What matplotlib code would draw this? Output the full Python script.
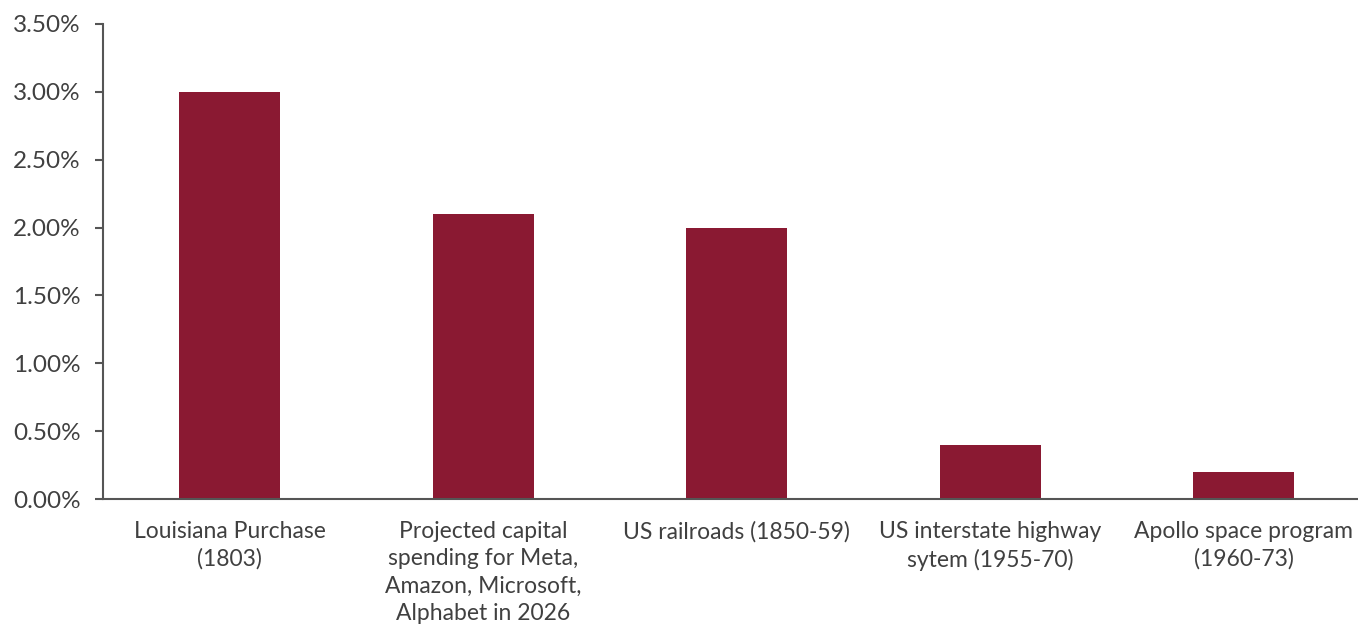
import matplotlib
matplotlib.use("Agg")
import matplotlib.pyplot as plt
from matplotlib.ticker import FuncFormatter

categories = ["Louisiana Purchase\n(1803)",
              "Projected capital\nspending for Meta,\nAmazon, Microsoft,\nAlphabet in 2026",
              "US railroads (1850-59)",
              "US interstate highway\nsytem (1955-70)",
              "Apollo space program\n(1960-73)"]
values = [3.00, 2.10, 2.00, 0.40, 0.20]
yticks = [0.0, 0.5, 1.0, 1.5, 2.0, 2.5, 3.0, 3.5]

plt.rcParams['font.family'] = ['Lato', 'DejaVu Sans']
text_color = "#404040"
axis_color = "#555555"

fig = plt.figure(figsize=(13.58, 6.27), dpi=100)
# axes extends a bit past the right edge like the reference
ax = fig.add_axes([103 / 1358, 1 - 499 / 627, 1267.5 / 1358, 475 / 627])

x = list(range(len(categories)))
ax.bar(x, values, width=0.40, color="#8A1932", zorder=2)

ax.set_xlim(-0.5, len(categories) - 0.5)
ax.set_ylim(0, 3.5)
ax.set_yticks(yticks)
ax.yaxis.set_major_formatter(FuncFormatter(lambda v, p: f"{v:.2f}%"))
ax.set_xticks(x)
ax.set_xticklabels(categories, linespacing=1.36)

for s in ["top", "right"]:
    ax.spines[s].set_visible(False)
for s in ["left", "bottom"]:
    ax.spines[s].set_color(axis_color)
    ax.spines[s].set_linewidth(1.5)
    ax.spines[s].set_zorder(3)

ax.tick_params(axis="y", length=6, width=1.5, color=axis_color, labelsize=17.5,
               labelcolor=text_color, pad=10)
ax.tick_params(axis="x", length=0, labelsize=16.5, labelcolor=text_color, pad=16)

fig.savefig("out.png", dpi=100)
